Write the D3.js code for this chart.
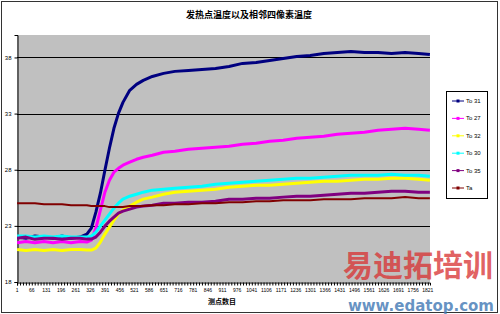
<!DOCTYPE html>
<html><head><meta charset="utf-8">
<script src="https://cdn.jsdelivr.net/npm/d3@7"></script>
<style>html,body{margin:0;padding:0;background:#fff;}svg{display:block;}</style>
</head><body>
<svg id="c" width="500" height="314"></svg>
<script>
const title = "发热点温度以及相邻四像素温度";
const xTitle = "测点数目";
const nPoints = 1830;
const xTickLabels = d3.range(1, 1822, 65);
const yTicks = [18, 23, 28, 33, 38];
const seriesNames = ["To 31", "To 27", "To 32", "To 30", "To 35", "Ta"];
const seriesColors = ["#000080", "#FF00FF", "#FFFF00", "#00FFFF", "#800080", "#800000"];
const sampleIdx = [1,40,80,120,160,200,240,280,310,330,350,370,390,410,430,450,470,500,530,560,600,650,700,760,820,880,940,1000,1060,1120,1180,1240,1300,1360,1420,1480,1540,1600,1660,1720,1780,1830];
const to31 = [22.0,21.9,22.1,22.0,21.9,22.1,21.9,22.0,22.27,22.8,24.22,25.91,27.96,29.91,31.69,33.02,34.0,35.07,35.6,35.96,36.31,36.58,36.76,36.84,36.93,37.02,37.2,37.47,37.56,37.73,37.91,38.09,38.18,38.36,38.44,38.53,38.44,38.44,38.36,38.44,38.36,38.27];
const to27 = [21.5,21.6,21.5,21.6,21.5,21.6,21.5,21.6,21.56,21.73,22.8,24.4,26.0,27.07,27.78,28.13,28.4,28.67,28.93,29.11,29.29,29.56,29.64,29.82,29.91,30.0,30.09,30.27,30.36,30.53,30.62,30.8,30.89,30.98,31.16,31.24,31.33,31.51,31.6,31.69,31.6,31.51];
const to32 = [20.9,20.8,20.9,20.8,20.9,20.8,20.9,20.9,20.84,20.84,21.02,21.56,22.27,22.89,23.51,24.04,24.4,24.76,25.11,25.38,25.56,25.82,26.0,26.09,26.18,26.27,26.44,26.53,26.62,26.62,26.71,26.8,26.89,26.98,26.98,27.07,27.16,27.16,27.24,27.24,27.16,27.07];
const to30 = [22.1,22.1,22.0,22.1,22.0,22.1,22.0,22.0,22.0,22.09,22.44,22.98,23.51,24.04,24.58,25.02,25.38,25.64,25.82,26.0,26.18,26.27,26.36,26.44,26.53,26.71,26.8,26.89,26.98,27.07,27.16,27.24,27.24,27.33,27.42,27.51,27.51,27.51,27.6,27.51,27.51,27.42];
const to35 = [21.9,22.0,21.8,21.9,21.9,21.8,21.9,21.9,21.82,21.82,22.0,22.44,22.98,23.42,23.78,24.13,24.31,24.49,24.67,24.76,24.84,25.02,25.02,25.11,25.11,25.2,25.38,25.38,25.47,25.47,25.56,25.64,25.64,25.73,25.82,25.91,25.91,26.0,26.09,26.09,26.0,26.0];
const ta = [25.02,25.02,25.02,24.93,24.93,24.93,24.84,24.84,24.84,24.76,24.76,24.76,24.76,24.67,24.67,24.67,24.67,24.76,24.76,24.76,24.84,24.84,24.93,24.93,25.02,25.02,25.11,25.11,25.2,25.2,25.29,25.29,25.29,25.38,25.38,25.38,25.47,25.47,25.47,25.56,25.47,25.47];
const seriesValues = [to31, to27, to32, to30, to35, ta];

const svg = d3.select("#c");
const W = 500, H = 314;
const plot = {l: 17, r: 430, t: 35, b: 282};

svg.append("rect").attr("x", 1.5).attr("y", 1.5).attr("width", W - 4).attr("height", H - 3)
  .attr("fill", "#fff").attr("stroke", "#333").attr("stroke-width", 1);

const x = d3.scaleLinear().domain([0.5, nPoints + 0.5]).range([plot.l, plot.r]);
const y = d3.scaleLinear().domain([18, 40]).range([plot.b, plot.t]);

svg.append("rect").attr("x", plot.l).attr("y", plot.t).attr("width", plot.r - plot.l).attr("height", plot.b - plot.t)
  .attr("fill", "#C0C0C0");

svg.append("g").selectAll("line").data(yTicks.slice(1)).join("line")
  .attr("x1", plot.l).attr("x2", plot.r).attr("y1", d => Math.round(y(d)) + 0.5).attr("y2", d => Math.round(y(d)) + 0.5)
  .attr("stroke", "#000").attr("stroke-width", 1);

const yAxis = d3.axisLeft(y).tickValues(yTicks).tickSize(3).tickPadding(3);
const gy = svg.append("g").attr("transform", `translate(${plot.l + 0.5},0)`).call(yAxis);
gy.select(".domain").attr("stroke", "#000");
gy.selectAll("text").attr("font-family", "Liberation Sans, Arial, sans-serif").attr("font-size", 6).attr("fill", "#000");

// watermark (behind axis labels)
svg.append("text").attr("x", 418).attr("y", 276).attr("text-anchor", "middle")
  .attr("font-family", "Noto Sans CJK SC, sans-serif").attr("font-weight", "bold").attr("font-size", 30)
  .attr("fill", "#D83030").attr("fill-opacity", 0.75).text("易迪拓培训");
svg.append("text").attr("x", 494).attr("y", 311).attr("text-anchor", "end")
  .attr("font-family", "DejaVu Sans, sans-serif").attr("font-weight", "bold").attr("font-size", 15)
  .attr("fill", "#4C7FB8").attr("fill-opacity", 0.85).text("www.edatop.com");

const xAxis = d3.axisBottom(x).tickValues(d3.range(1, nPoints + 1, 13)).tickSize(3).tickFormat("");
const gx = svg.append("g").attr("transform", `translate(0,${plot.b + 0.5})`).call(xAxis);
gx.select(".domain").attr("stroke", "#000");
gx.selectAll(".tick line").attr("stroke", "#000");
svg.append("g").selectAll("text").data(xTickLabels).join("text")
  .attr("x", d => x(d)).attr("y", plot.b + 9.5)
  .attr("text-anchor", "middle").attr("font-family", "Liberation Sans, Arial, sans-serif").attr("font-size", 5)
  .attr("fill", "#000").text(d => d);

const line = d3.line().x((d, i) => x(sampleIdx[i])).y(d => y(d));
seriesValues.forEach((vals, k) => {
  svg.append("path").datum(vals).attr("d", line)
    .attr("fill", "none").attr("stroke", seriesColors[k])
    .attr("stroke-width", k === 5 ? 2 : 3).attr("stroke-linejoin", "round");
});

svg.append("text").attr("x", 249).attr("y", 18).attr("text-anchor", "middle")
  .attr("font-family", "Noto Sans CJK SC, sans-serif").attr("font-weight", "bold").attr("font-size", 9)
  .attr("fill", "#000").text(title);
svg.append("text").attr("x", 222).attr("y", 304).attr("text-anchor", "middle")
  .attr("font-family", "Noto Sans CJK SC, sans-serif").attr("font-weight", "bold").attr("font-size", 7)
  .attr("fill", "#000").text(xTitle);

const lg = svg.append("g");
lg.append("rect").attr("x", 446.5).attr("y", 91.5).attr("width", 41).attr("height", 107)
  .attr("fill", "#fff").attr("stroke", "#000").attr("stroke-width", 1);
const ly = d3.scalePoint().domain(seriesNames).range([101, 188]);
seriesNames.forEach((n, k) => {
  const yy = ly(n);
  lg.append("line").attr("x1", 452).attr("x2", 464).attr("y1", yy).attr("y2", yy)
    .attr("stroke", seriesColors[k]).attr("stroke-width", 1);
  lg.append("rect").attr("x", 456.5).attr("y", yy - 1.5).attr("width", 3).attr("height", 3).attr("fill", seriesColors[k]);
  lg.append("text").attr("x", 466).attr("y", yy + 2).attr("font-family", "Liberation Sans, Arial, sans-serif")
    .attr("font-size", 6).attr("fill", "#000").text(n);
});
</script>
</body></html>
